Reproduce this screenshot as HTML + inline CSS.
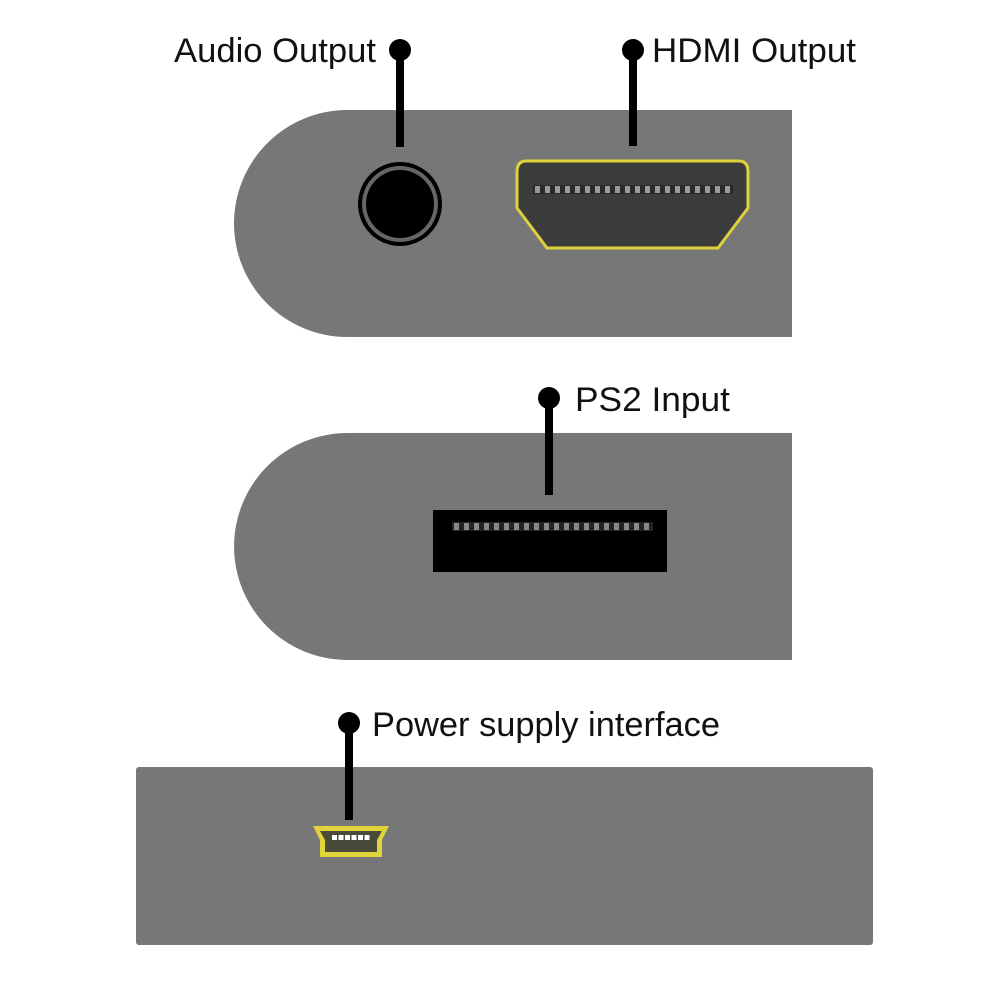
<!DOCTYPE html>
<html><head><meta charset="utf-8"><style>html,body{margin:0;padding:0;background:#fff}svg{display:block}</style></head>
<body>
<svg width="1000" height="1000" viewBox="0 0 1000 1000" xmlns="http://www.w3.org/2000/svg" font-family="Liberation Sans, sans-serif">
<rect width="1000" height="1000" fill="#fff"/>
<path d="M792,110 H347.5 A113.5,113.5 0 0 0 347.5,337 H792 Z" fill="#777"/>
<circle cx="400" cy="204" r="42" fill="#000"/>
<circle cx="400" cy="204" r="38" fill="#666"/>
<circle cx="400" cy="204" r="34" fill="#000"/>
<path d="M526,161 H739 Q748,161 748,172 V208 L718,248 H547 L517,208 V172 Q517,161 526,161 Z" fill="#3c3c3c" stroke="#ddd23c" stroke-width="3"/>
<rect x="533" y="185" width="200" height="9" fill="#2a2a2a"/>
<g fill="#9a9a9a">
<rect x="535" y="186" width="5" height="7"/><rect x="545" y="186" width="5" height="7"/><rect x="555" y="186" width="5" height="7"/><rect x="565" y="186" width="5" height="7"/><rect x="575" y="186" width="5" height="7"/><rect x="585" y="186" width="5" height="7"/><rect x="595" y="186" width="5" height="7"/><rect x="605" y="186" width="5" height="7"/><rect x="615" y="186" width="5" height="7"/><rect x="625" y="186" width="5" height="7"/><rect x="635" y="186" width="5" height="7"/><rect x="645" y="186" width="5" height="7"/><rect x="655" y="186" width="5" height="7"/><rect x="665" y="186" width="5" height="7"/><rect x="675" y="186" width="5" height="7"/><rect x="685" y="186" width="5" height="7"/><rect x="695" y="186" width="5" height="7"/><rect x="705" y="186" width="5" height="7"/><rect x="715" y="186" width="5" height="7"/><rect x="725" y="186" width="5" height="7"/>
</g>
<circle cx="400" cy="50" r="11" fill="#000"/><rect x="396" y="50" width="8" height="97" fill="#000"/>
<text x="174" y="62" font-size="34" textLength="202" lengthAdjust="spacingAndGlyphs" fill="#111">Audio Output</text>
<circle cx="633" cy="50" r="11" fill="#000"/><rect x="629" y="50" width="8" height="96" fill="#000"/>
<text x="652" y="62" font-size="34" textLength="204" lengthAdjust="spacingAndGlyphs" fill="#111">HDMI Output</text>
<path d="M792,433 H347.5 A113.5,113.5 0 0 0 347.5,660 H792 Z" fill="#777"/>
<rect x="433" y="510" width="234" height="62" fill="#000"/>
<rect x="452" y="522" width="201" height="9" fill="#222"/>
<g fill="#888">
<rect x="454" y="523" width="5" height="7"/><rect x="464" y="523" width="5" height="7"/><rect x="474" y="523" width="5" height="7"/><rect x="484" y="523" width="5" height="7"/><rect x="494" y="523" width="5" height="7"/><rect x="504" y="523" width="5" height="7"/><rect x="514" y="523" width="5" height="7"/><rect x="524" y="523" width="5" height="7"/><rect x="534" y="523" width="5" height="7"/><rect x="544" y="523" width="5" height="7"/><rect x="554" y="523" width="5" height="7"/><rect x="564" y="523" width="5" height="7"/><rect x="574" y="523" width="5" height="7"/><rect x="584" y="523" width="5" height="7"/><rect x="594" y="523" width="5" height="7"/><rect x="604" y="523" width="5" height="7"/><rect x="614" y="523" width="5" height="7"/><rect x="624" y="523" width="5" height="7"/><rect x="634" y="523" width="5" height="7"/><rect x="644" y="523" width="5" height="7"/>
</g>
<circle cx="549" cy="398" r="11" fill="#000"/><rect x="545" y="398" width="8" height="97" fill="#000"/>
<text x="575" y="411" font-size="34" textLength="155" lengthAdjust="spacingAndGlyphs" fill="#111">PS2 Input</text>
<rect x="136" y="767" width="737" height="178" rx="3" fill="#777"/>
<path d="M313,826 H389 L382,840 V857 H320 V840 Z" fill="#e0d43a"/>
<path d="M320,831 H382 L377,840 V852 H325 V840 Z" fill="#4a4a3a"/>
<g fill="#fff">
<rect x="332" y="835" width="5" height="5"/><rect x="338.5" y="835" width="5" height="5"/><rect x="345" y="835" width="5" height="5"/><rect x="351.5" y="835" width="5" height="5"/><rect x="358" y="835" width="5" height="5"/><rect x="364.5" y="835" width="5" height="5"/>
</g>
<circle cx="349" cy="723" r="11" fill="#000"/><rect x="345" y="723" width="8" height="97" fill="#000"/>
<text x="372" y="736" font-size="34" textLength="348" lengthAdjust="spacingAndGlyphs" fill="#111">Power supply interface</text>
</svg>
</body></html>
